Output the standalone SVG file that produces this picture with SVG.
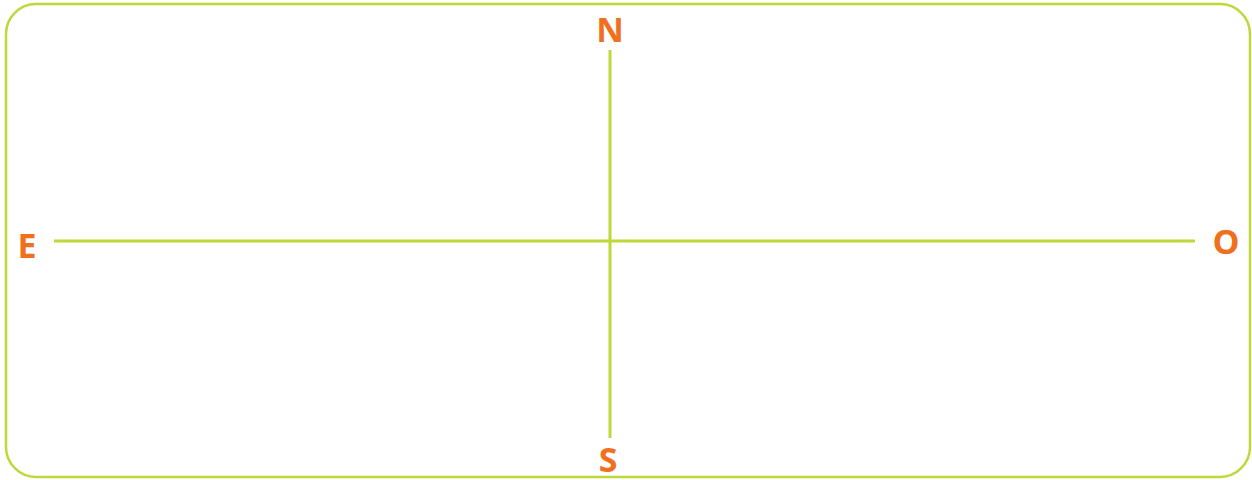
<svg xmlns="http://www.w3.org/2000/svg" width="1252" height="480" viewBox="0 0 1252 480">
<style>
.ln{stroke:#bfd73a;stroke-width:3;fill:none}
.lbl{font-family:"Open Sans","Liberation Sans",sans-serif;font-weight:bold;font-size:34px;fill:#f0701e;text-anchor:middle}
</style>
<rect x="6" y="4" width="1244" height="473" rx="30" ry="30" fill="#ffffff" stroke="#bfd73a" stroke-width="2.5"/>
<g id="connectors">
<line class="ln" x1="54" y1="241" x2="1195" y2="241"/>
<line class="ln" x1="610" y1="50" x2="610" y2="438"/>
</g>
<g id="north"><text class="lbl" x="610" y="42">N</text></g>
<g id="east"><text class="lbl" x="27" y="258">E</text></g>
<g id="west"><text class="lbl" x="1226" y="254">O</text></g>
<g id="south"><text class="lbl" x="608" y="472">S</text></g>
</svg>
